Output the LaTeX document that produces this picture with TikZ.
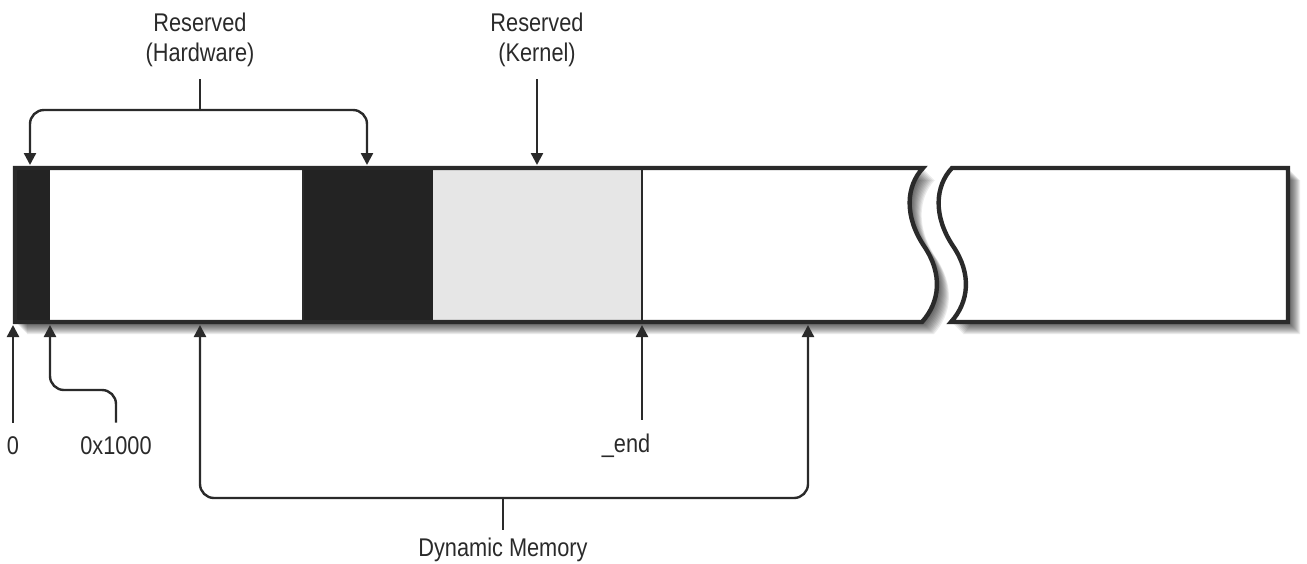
\documentclass[tikz,border=0pt]{standalone}
\usepackage{fontspec}
\setmainfont[FakeStretch=0.85]{Liberation Sans}
\usetikzlibrary{arrows.meta,calc}
\definecolor{ink}{HTML}{2A2A2A}
\definecolor{dark}{HTML}{232323}
\definecolor{kern}{HTML}{E6E6E6}
\newcommand{\mmLeftSeg}{(15,168) -- (923,168) .. controls (906,186) and (904,216) .. (924,246) .. controls (943,274) and (940,302) .. (922,322) -- (15,322) -- cycle}
\newcommand{\mmRightSeg}{(952,168) -- (1288,168) -- (1288,322) -- (951,322) .. controls (969,302) and (972,274) .. (953,246) .. controls (933,216) and (935,186) .. (952,168) -- cycle}
\begin{document}
\begin{tikzpicture}[x=0.5pt,y=-0.5pt,
  lbl/.style={font=\fontsize{12.8}{15}\selectfont, text=ink, align=center, inner sep=1pt},
  arr/.style={draw=ink, line width=1.2pt, -{Triangle[length=6pt,width=6pt]}},
  outl/.style={draw=ink, line width=2.2pt, line join=miter},
  sep/.style={draw=ink, line width=1.4pt}]
\useasboundingbox (0,0) rectangle (1307,563);
% shadow
\foreach \s in {2,3,...,12}{
  \fill[black, opacity=0.08] [shift={(\s,\s)}] \mmLeftSeg;
  \fill[black, opacity=0.08] [shift={(\s,\s)}] \mmRightSeg;
}
% segments
\fill[white] \mmLeftSeg;
\fill[white] \mmRightSeg;
\fill[dark] (15,168) rectangle (50,322);
\fill[dark] (303,168) rectangle (433,322);
\fill[kern] (433,168) rectangle (642,322);
\draw[sep] (642,168) -- (642,322);
\draw[sep] (303,168) -- (303,322);
\draw[outl] \mmLeftSeg;
\draw[outl] \mmRightSeg;
% tip coordinates
\coordinate (t1) at (30,165);
\coordinate (t2) at (367,165);
\coordinate (t3) at (537,165);
\coordinate (hwb) at (200,110);
\coordinate (b0) at (13,325);
\coordinate (b1) at (50,325);
\coordinate (b2) at (200,325);
\coordinate (b3) at (808,325);
\coordinate (be) at (642,325);
\coordinate (dmb) at (503,498);
\coordinate (hk1) at (50,390);
% labels
\node[lbl] (hw) at (200,40) {Reserved\\(Hardware)};
\node[lbl] (kr) at (537,40) {Reserved\\(Kernel)};
\node[lbl] (l0) at (13,446) {0};
\node[lbl] (l1) at (116,446) {0x1000};
\node[lbl] (le) at (626,446) {\_end};
\node[lbl] (dm) at (503,550) {Dynamic Memory};
% top connectors
\draw[draw=ink, line width=1.2pt] ([yshift=-5pt]hw.south) -- (hwb);
\draw[arr, rounded corners=7pt] (hwb) -| (t1);
\draw[arr, rounded corners=7pt] (hwb) -| (t2);
\draw[arr] ([yshift=-5pt]kr.south) -- (t3);
% bottom connectors
\draw[arr] ([yshift=6pt]l0.north) -- (b0);
\draw[arr, rounded corners=7pt] ([yshift=6pt]l1.north) |- (hk1) -- (b1);
\draw[arr] ([yshift=6pt]le.north -| be) -- (be);
\draw[draw=ink, line width=1.2pt] ([yshift=3pt]dm.north) -- (dmb);
\draw[arr, rounded corners=7pt] (dmb) -| (b2);
\draw[arr, rounded corners=7pt] (dmb) -| (b3);
\end{tikzpicture}
\end{document}
